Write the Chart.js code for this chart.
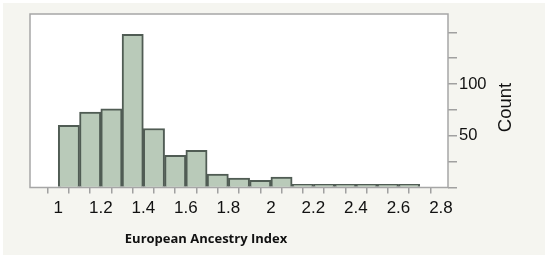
<!DOCTYPE html>
<html><head><meta charset="utf-8">
<script src="https://cdn.jsdelivr.net/npm/chart.js@4"></script>
<style>html,body{margin:0;padding:0;background:#fff}#wrap{width:550px;height:260px}</style>
</head><body><div id="wrap"><canvas id="c" width="550" height="260"></canvas></div>
<script>
const binStarts = [1.0,1.1,1.2,1.3,1.4,1.5,1.6,1.7,1.8,1.9,2.0,2.1,2.2,2.3,2.4,2.5,2.6];
const counts    = [60,73,76,148,57,31,36,13,9,7,10,3,3,3,3,3,3];
const binWidth = 0.1;
const xTickValues = [0.9,1.0,1.1,1.2,1.3,1.4,1.5,1.6,1.7,1.8,1.9,2.0,2.1,2.2,2.3,2.4,2.5,2.6,2.7,2.8];
const xTickLabels = {"1.0":"1","1.2":"1.2","1.4":"1.4","1.6":"1.6","1.8":"1.8","2.0":"2","2.2":"2.2","2.4":"2.4","2.6":"2.6","2.8":"2.8"};
const yTickValues = [0,25,50,75,100,125,150];
const yTickLabels = {50:"50",100:"100"};
const xTitle = "European Ancestry Index";
const yTitle = "Count";

const data = binStarts.map((s,i)=>({x: s + binWidth/2, y: counts[i]}));

const framePlugin = {
  id:'frame',
  beforeDraw(chart){
    const ctx = chart.ctx, a = chart.chartArea;
    ctx.save();
    ctx.fillStyle = '#ffffff'; ctx.fillRect(0,0,chart.width,chart.height);
    ctx.fillStyle = '#f5f5f0'; ctx.fillRect(3,3,542,252);
    ctx.fillStyle = '#ffffff'; ctx.fillRect(a.left,a.top,a.right-a.left,a.bottom-a.top);
    ctx.restore();
  },
  afterDraw(chart){
    const ctx = chart.ctx, a = chart.chartArea;
    ctx.save();
    ctx.strokeStyle = '#a6a6a6'; ctx.lineWidth = 1.5;
    ctx.strokeRect(a.left, a.top, a.right-a.left, a.bottom-a.top);
    ctx.fillStyle = '#111';
    ctx.font = 'bold 13px "Open Sans"';
    ctx.textAlign = 'center'; ctx.textBaseline = 'middle';
    ctx.fillText(xTitle, 206, 239);
    ctx.translate(506, 107.5);
    ctx.rotate(-Math.PI/2);
    ctx.font = '18.5px "Liberation Sans"';
    ctx.fillText(yTitle, 0, 0);
    ctx.restore();
  }
};

new Chart(document.getElementById('c'), {
  type:'bar',
  data:{datasets:[{data, backgroundColor:'#b9cab9', borderColor:'#505c54', borderWidth:2,
    barPercentage:1, categoryPercentage:1, borderSkipped:'bottom'}]},
  options:{
    responsive:false, animation:false,
    layout:{padding:{left:30, top:14, right:0, bottom:0}},
    plugins:{legend:{display:false}, tooltip:{enabled:false}},
    scales:{
      x:{type:'linear', min:0.867, max:2.833, offset:false,
        afterBuildTicks(s){ s.ticks = xTickValues.map(v=>({value:v})); },
        afterFit(s){ s.height = 72.5; },
        grid:{drawOnChartArea:false, drawTicks:true, tickLength:6, color:'#a0a0a0', lineWidth:1.5},
        border:{display:false},
        ticks:{autoSkip:false, maxRotation:0, padding:5, color:'#111', font:{family:'Liberation Sans', size:17},
          callback(v){ return xTickLabels[v.toFixed(1)] || ''; }}
      },
      y:{position:'right', min:0, max:167.7,
        afterBuildTicks(s){ s.ticks = yTickValues.map(v=>({value:v})); },
        afterFit(s){ s.width = 102; },
        grid:{drawOnChartArea:false, drawTicks:true, tickLength:9, color:'#a0a0a0', lineWidth:1.5},
        border:{display:false},
        ticks:{autoSkip:false, padding:2, color:'#111', font:{family:'Liberation Sans', size:16.5},
          callback(v){ return yTickLabels[v] || ''; }}
      }
    }
  },
  plugins:[framePlugin]
});
</script></body></html>
